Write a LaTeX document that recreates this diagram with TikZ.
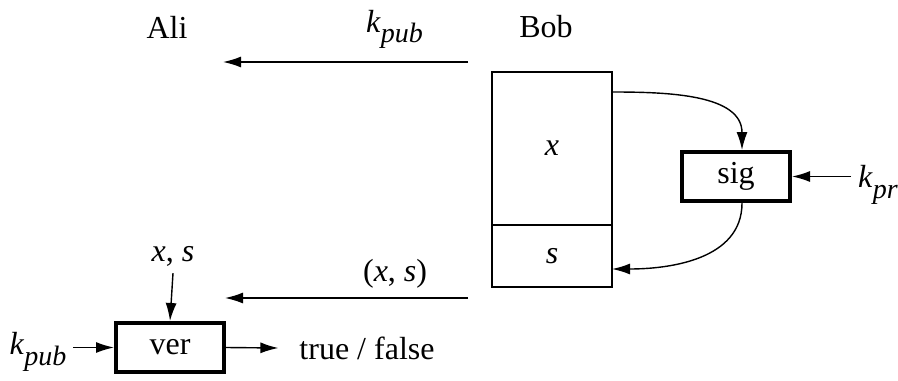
\documentclass[tikz,border=0pt]{standalone}
\usepackage{fontspec}
\setmainfont{Liberation Serif}
\usetikzlibrary{arrows.meta,positioning}
\newcommand{\keyname}[2]{\textit{#1}\raisebox{-0.7ex}{\fontsize{14}{14}\selectfont\textit{#2}}}

\begin{document}
\begin{tikzpicture}[x=0.5pt,y=-0.5pt,>={Latex[length=9pt,width=5.5pt]},
  font=\fontsize{16}{19}\selectfont,
  thin line/.style={line width=0.7pt},
  cell/.style={draw,line width=0.6pt,minimum width=60pt,outer sep=0pt,inner sep=0pt},
  fnbox/.style={draw,line width=2pt,minimum width=54pt,minimum height=24.5pt,inner sep=0pt}]
  \useasboundingbox (0,0) rectangle (898,380);

  % parties
  \node (ali) at (167,27) {Ali};
  \node (bob) at (546,27) {Bob};

  % Bob's message box
  \node[cell,minimum height=76.5pt] (xcell) at (552,148.5) {\textit{x}};
  \node[cell,minimum height=31pt,below=0pt of xcell] (scell) {\textit{s}};

  % signing
  \node[fnbox] (sig) at (736,176.5) {sig};
  \node (kpr) at (878,185) {\keyname{k}{pr}};
  \draw[thin line,->] (sig.east -| kpr.west) -- (sig.east);
  \draw[thin line,->] ([yshift=-10pt]xcell.north east) to[out=0,in=90] ([xshift=3pt]sig.north);
  \draw[thin line,->] ([xshift=3pt]sig.south) to[out=-90,in=0] ([yshift=9pt]scell.south east);

  % transmissions
  \coordinate (keyfrom) at (468,62);
  \coordinate (keyto) at (223,62);
  \draw[thin line,->] (keyfrom) -- (keyto) node[pos=0.3,above=3pt] {\keyname{k}{pub}};
  \coordinate (msgfrom) at (468,298);
  \coordinate (msgto) at (225,298);
  \draw[thin line,->] (msgfrom) -- (msgto) node[pos=0.3,above=1pt] {(\textit{x}, \textit{s})};

  % verification
  \node[fnbox] (ver) at (170,347.5) {ver};
  \node (xs) at (173,256) {\textit{x}, \textit{s}};
  \node (kpubl) at (38,352) {\keyname{k}{pub}};
  \node (result) at (367,348) {true / false};
  \draw[thin line,->] (xs.south) -- (ver.north);
  \draw[thin line,->] (ver.west -| kpubl.east) -- (ver.west);
  \draw[thin line,->] (ver.east) -- ([xshift=-7pt]result.west);
\end{tikzpicture}
\end{document}
